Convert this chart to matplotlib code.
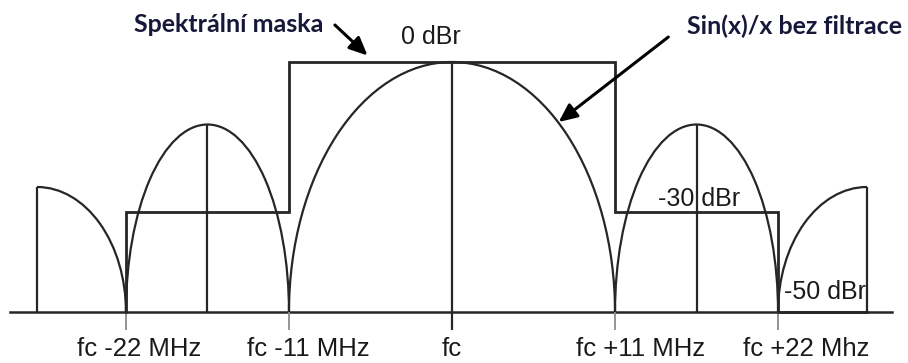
import matplotlib.pyplot as plt
from matplotlib.patches import Arc

# Kmitočty v MHz vůči nosné fc
nuly = [-22, -11, 0, 11, 22]
popisky = ['fc -22 MHz', 'fc -11 MHz', 'fc', 'fc +11 MHz', 'fc +22 Mhz']
posun_popisku = [0.9, 1.3, 0.0, 1.7, 1.9]

# Spektrální maska (dBr)
maska_f = [-22, -22, -11, -11, 11, 11, 22, 22, 28]
maska_db = [-50, -30, -30, 0, 0, -30, -30, -50, -50]

# Laloky sin(x)/x: střed, šířka, vrchol (dBr)
hlavni_lalok = (0, 22, 0)
postranni_laloky = [(-16.5, 11, -12.5), (16.5, 11, -12.5)]
krajni_laloky = [(-28, 6, -25), (28, 6, -25)]
podlaha = -50

barva = '#262626'
plt.rcParams['font.family'] = ['Liberation Sans', 'DejaVu Sans']

fig = plt.figure(figsize=(9.08, 3.63), dpi=100)
ax = fig.add_axes([0, 0, 1, 1])
ax.set_xlim(-30.5, 30.77)
ax.set_ylim(-60.2, 12.4)
ax.axis('off')

# vodorovná osa
ax.axhline(podlaha, xmin=10 / 908, xmax=892 / 908, color=barva, lw=1.8)

# značky kmitočtů pod osou
for f in nuly:
    c = barva if f == 0 else '#8c8c8c'
    ax.vlines(f, podlaha - 3.6, podlaha, color=c, lw=1.3 if f else 1.6)

# hlavní lalok
xc, w, vrchol = hlavni_lalok
ax.add_patch(Arc((xc, podlaha), w, 2 * (vrchol - podlaha), theta1=0, theta2=180,
                 color=barva, lw=1.6))
ax.vlines(xc, podlaha, vrchol, color=barva, lw=1.6)

# postranní laloky
for xc, w, vrchol in postranni_laloky:
    ax.add_patch(Arc((xc, podlaha), w, 2 * (vrchol - podlaha), theta1=0, theta2=180,
                     color=barva, lw=1.6))
    ax.vlines(xc, podlaha, vrchol, color=barva, lw=1.6)

# krajní (oříznuté) laloky
for xc, w, vrchol in krajni_laloky:
    t1, t2 = (0, 90) if xc < 0 else (90, 180)
    ax.add_patch(Arc((xc, podlaha), 2 * w, 2 * (vrchol - podlaha), theta1=t1, theta2=t2,
                     color=barva, lw=1.6))
    ax.vlines(xc, podlaha, vrchol, color=barva, lw=1.6)

# maska
ax.plot(maska_f, maska_db, color=barva, lw=2.0, solid_joinstyle='miter')

# popisky kmitočtů
for f, txt, d in zip(nuly, popisky, posun_popisku):
    ax.text(f + d, -57.4, txt, ha='center', va='center', fontsize=18.5, color='#1a1a1a')

# úrovně masky
ax.text(-1.4, 4.9, '0 dBr', ha='center', va='center', fontsize=18, color='#1a1a1a')
ax.text(16.7, -27.4, '-30 dBr', ha='center', va='center', fontsize=18, color='#1a1a1a')
ax.text(25.2, -46.0, '-50 dBr', ha='center', va='center', fontsize=18, color='#1a1a1a')

# šipky s komentáři
tucne = dict(fontsize=18, fontweight='bold', family=['Lato', 'DejaVu Sans'], color='#17173a')
ax.text(-15.1, 7.6, 'Spektrální maska', ha='center', va='center', **tucne)
ax.text(23.1, 7.2, 'Sin(x)/x bez filtrace', ha='center', va='center', **tucne)

sipka = dict(arrowstyle='-|>,head_length=1.1,head_width=0.5', color='black', lw=2.2,
             shrinkA=0, shrinkB=0)
ax.annotate('', xy=(-5.7, 1.3), xytext=(-7.9, 7.4), arrowprops=sipka)
ax.annotate('', xy=(7.2, -12.0), xytext=(14.6, 5.0), arrowprops=sipka)

fig.savefig('out.png', dpi=100)
